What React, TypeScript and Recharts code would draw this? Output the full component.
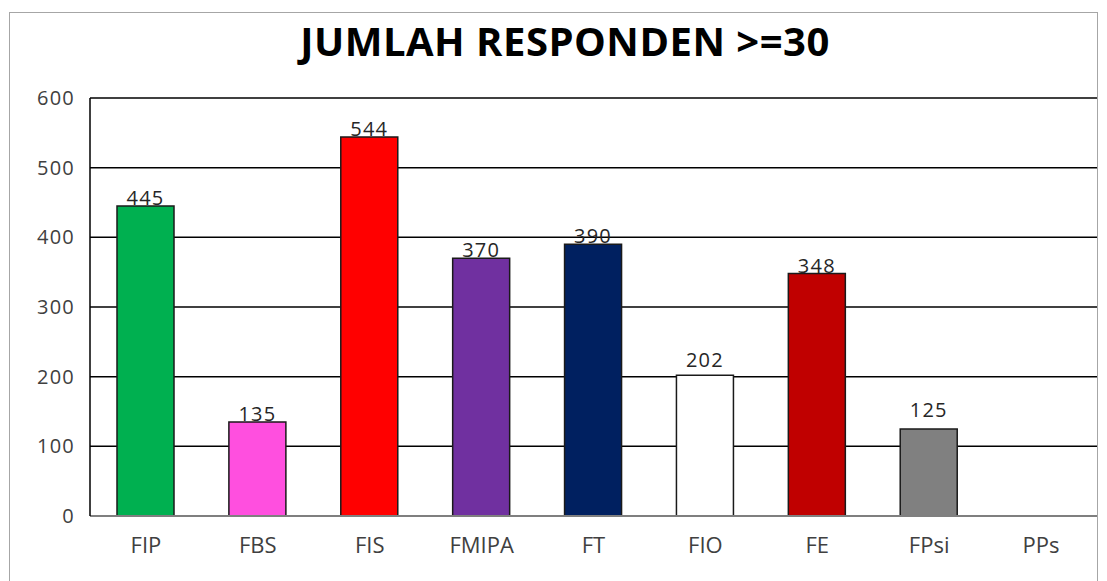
import type { FC } from "react";
import { BarChart, Bar, XAxis, YAxis, CartesianGrid, Cell, LabelList } from "recharts";

const categories = ["FIP", "FBS", "FIS", "FMIPA", "FT", "FIO", "FE", "FPsi", "PPs"];
const responden = [445, 135, 544, 370, 390, 202, 348, 125, 0];
const yTicks = [0, 100, 200, 300, 400, 500, 600];

const BAR_COLORS = [
  "#00B050", // FIP green
  "#FF4FDF", // FBS pink
  "#FF0000", // FIS red
  "#7030A0", // FMIPA purple
  "#002060", // FT navy
  "#FFFFFF", // FIO white
  "#C00000", // FE dark red
  "#808080", // FPsi gray
  "#404040", // PPs
];

// a few labels float higher above their bar in the original
const LABEL_LIFT: Record<string, number> = { FIO: 8, FPsi: 12 };

const FONT = "'Open Sans', sans-serif";

const data = categories.map((name, i) => ({ name, value: responden[i] }));

const ValueLabel: FC<any> = ({ x, y, width, value, index }) => {
  if (!value) return null;
  const lift = LABEL_LIFT[categories[index]] ?? 1;
  return (
    <text
      x={x + width / 2}
      y={y - lift}
      textAnchor="middle"
      fill="#262626"
      fontSize={20}
      letterSpacing={1.2}
      fontFamily={FONT}
    >
      {value}
    </text>
  );
};

const App: FC = () => {
  return (
    <div style={{ position: "absolute", left: 0, top: 0, width: 1107, height: 581, background: "#fff", overflow: "hidden" }}>
      <div
        style={{
          position: "absolute",
          left: 9,
          top: 12,
          width: 1087,
          height: 600,
          border: "1px solid #a6a6a6",
        }}
      />
      <div
        style={{
          position: "absolute",
          left: 21,
          width: 1088,
          top: 21,
          textAlign: "center",
          fontFamily: FONT,
          fontWeight: 700,
          fontSize: 40,
          letterSpacing: 0.5,
          color: "#000",
          lineHeight: "40px",
          whiteSpace: "nowrap",
        }}
      >
        JUMLAH RESPONDEN &gt;=30
      </div>
      <div style={{ position: "absolute", left: 0, top: 0 }}>
        <BarChart
          width={1107}
          height={581}
          data={data}
          margin={{ top: 98, right: 10, bottom: 35, left: 30 }}
        >
          <CartesianGrid vertical={false} stroke="#000" strokeWidth={1.5} />
          <XAxis
            dataKey="name"
            height={30}
            tickLine={false}
            axisLine={{ stroke: "#7f7f7f", strokeWidth: 2 }}
            tick={{ fill: "#404040", fontSize: 22, fontFamily: FONT }}
            tickMargin={15}
            interval={0}
          />
          <YAxis
            width={60}
            domain={[0, 600]}
            ticks={yTicks}
            tickLine={false}
            axisLine={{ stroke: "#000", strokeWidth: 1.5 }}
            tick={{ fill: "#404040", fontSize: 20, fontFamily: FONT, letterSpacing: 1.2 }}
            tickMargin={9}
          />
          <Bar dataKey="value" barSize={57} stroke="#1a1a1a" strokeWidth={1.5} isAnimationActive={false}>
            {data.map((entry, i) => (
              <Cell key={entry.name} fill={BAR_COLORS[i]} />
            ))}
            <LabelList dataKey="value" content={<ValueLabel />} />
          </Bar>
        </BarChart>
      </div>
    </div>
  );
};

export default App;
